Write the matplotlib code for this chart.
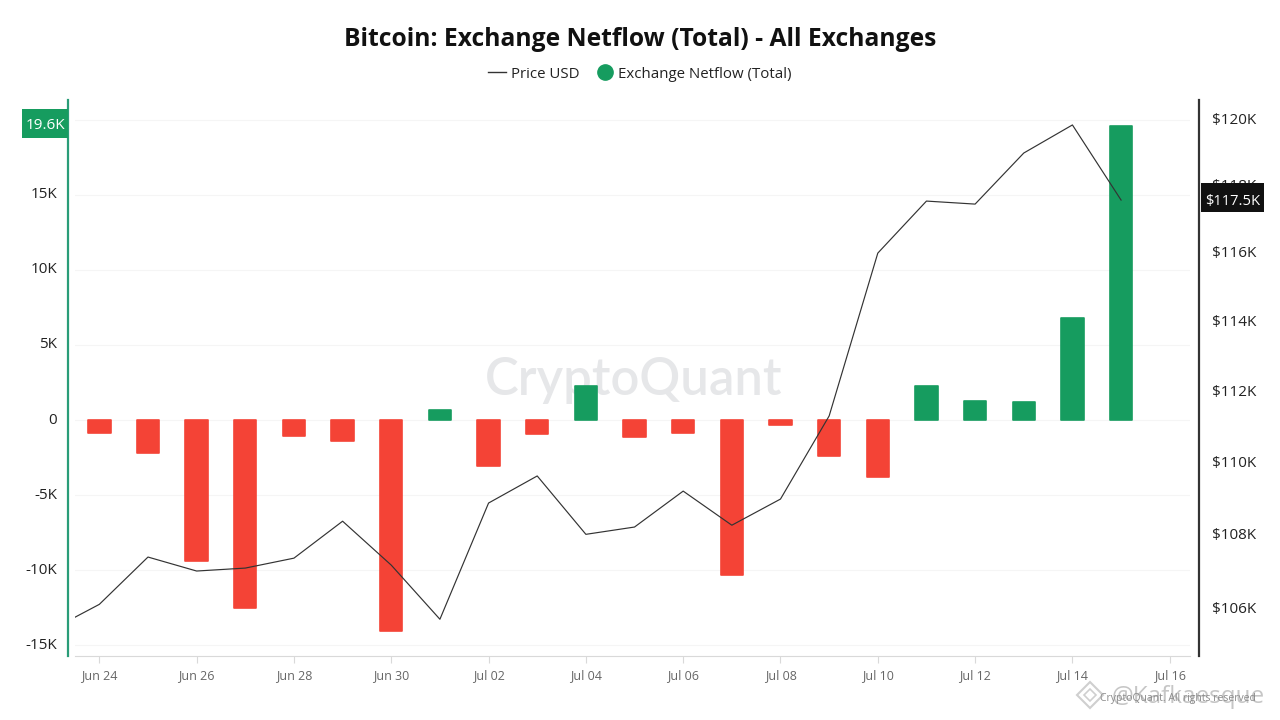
import matplotlib
matplotlib.use("Agg")
import matplotlib.pyplot as plt
from matplotlib.lines import Line2D
from matplotlib.patches import RegularPolygon
from matplotlib.ticker import NullLocator
import pandas as pd

plt.rcParams["font.family"] = ["Open Sans", "DejaVu Sans"]

# Datos
bar_dates = pd.date_range("2025-06-24", "2025-07-15").tolist()
netflow = [-870, -2200, -9400, -12530, -1070, -1400, -14070, 650, -3070, -930, 2300,
           -1130, -870, -10330, -330, -2400, -3800, 2300, 1300, 1200, 6800, 19600]

price_dates = pd.date_range("2025-06-23", "2025-07-15").tolist()
price = [105.39, 106.08, 107.36, 106.98, 107.06, 107.33, 108.34, 107.14, 105.68, 108.84,
         109.59, 107.98, 108.18, 109.17, 108.23, 108.95, 111.27, 115.96, 117.50, 117.41,
         118.94, 119.79, 117.53]

left_ticks = [-15000, -10000, -5000, 0, 5000, 10000, 15000]
left_labels = ["-15K", "-10K", "-5K", "0", "5K", "10K", "15K"]
right_ticks = [106, 108, 110, 112, 114, 116, 118, 120]
right_labels = ["$106K", "$108K", "$110K", "$112K", "$114K", "$116K", "$118K", "$120K"]
x_ticks = pd.date_range("2025-06-24", "2025-07-16", freq="2D").tolist()
x_labels = [d.strftime("%b %d") for d in x_ticks]

GREEN = "#169c5f"
RED = "#f44336"
W, H = 1280, 720

fig = plt.figure(figsize=(12.8, 7.2), dpi=100)
# caja del grafico en pixeles: x 75-1190, y 100-656
ax = fig.add_axes([75 / W, 1 - 656 / H, (1190 - 75) / W, (656 - 100) / H])
ax2 = ax.twinx()

# Barras de netflow
colors = [GREEN if v > 0 else RED for v in netflow]
bars = ax.bar(bar_dates, netflow, width=0.46, color=colors, edgecolor=colors, linewidth=1.2, zorder=3)
for b in bars:
    b.set_joinstyle("round")

# Precio (escala log)
ax2.plot(price_dates, price, color="#333333", linewidth=0.85, zorder=5)
ax2.set_yscale("log")
ax2.set_ylim(104.7, 120.55)
ax2.set_yticks(right_ticks)
ax2.set_yticklabels(right_labels)
ax2.yaxis.set_minor_locator(NullLocator())
ax2.tick_params(axis="y", length=0, pad=9.5, labelsize=11, labelcolor="#222222")

ax.set_xlim(pd.Timestamp("2025-06-23") + pd.Timedelta(hours=12), pd.Timestamp("2025-07-16") + pd.Timedelta(hours=10))
ax.set_ylim(-15730, 21330)
ax.set_yticks(left_ticks + [20000])
ax.set_yticklabels(left_labels + [""])
ax.tick_params(axis="y", length=0, pad=8, labelsize=11, labelcolor="#222222")
ax.set_xticks(x_ticks)
ax.set_xticklabels(x_labels)
ax.tick_params(axis="x", length=5, color="#d9d9d9", labelsize=9, labelcolor="#666666", pad=4.5)
ax.grid(axis="y", color="#f5f5f5", linewidth=0.8, zorder=0)
ax.set_axisbelow(True)

for a in (ax, ax2):
    a.spines["top"].set_visible(False)
ax.spines["right"].set_visible(False)
ax2.spines["left"].set_visible(False)
ax2.spines["bottom"].set_visible(False)
ax.spines["bottom"].set_color("#d9d9d9")
ax.spines["left"].set_position(("outward", 5))
ax.spines["left"].set_color("#2a9d78")
ax.spines["left"].set_linewidth(1.6)
ax2.spines["right"].set_position(("outward", 6.5))
ax2.spines["right"].set_color("#333333")
ax2.spines["right"].set_linewidth(1.6)

# las etiquetas del eje izquierdo quedan un poco por encima de la rejilla
# (despues de set_position, que reinicia los ticks)
for t in ax.get_yticklabels():
    t.set_verticalalignment("center")

# Titulo y leyenda
fig.text(640 / W, 1 - 40 / H, "Bitcoin: Exchange Netflow (Total) - All Exchanges", ha="center", va="center",
         fontsize=17.7, fontweight="bold", color="#111111")
handles = [Line2D([], [], color="#333333", linewidth=1),
           Line2D([], [], linestyle="", marker="o", markersize=11, color=GREEN)]
fig.legend(handles, ["Price USD", "Exchange Netflow (Total)"], loc="center", bbox_to_anchor=(640 / W, 1 - 74 / H),
           ncol=2, frameon=False, fontsize=10.8, handlelength=1.2, handletextpad=0.3, columnspacing=1.1,
           labelcolor="#222222")

# Etiquetas de ultimo valor
fig.text(45.5 / W, 1 - 125.5 / H, "19.6K", ha="center", va="center", fontsize=11, color="white", zorder=10)
fig.patches.append(plt.Rectangle((22 / W, 1 - 138 / H), 46 / W, 29 / H, transform=fig.transFigure,
                                 fc=GREEN, ec="none", zorder=9))
fig.text(1232.5 / W, 1 - 201 / H, "$117.5K", ha="center", va="center", fontsize=10.6, color="white", zorder=10)
fig.patches.append(plt.Rectangle((1201 / W, 1 - 212 / H), 63 / W, 29 / H, transform=fig.transFigure,
                                 fc="#111111", ec="none", zorder=9))

# Marcas de agua: la grande va detras de las barras
ax.text(634 / W, 1 - 380 / H, "CryptoQuant", ha="center", va="center", fontsize=36.5, color="#e6e7e9",
        family=["Lato", "DejaVu Sans"], fontweight="semibold", zorder=1, transform=fig.transFigure)
fig.text(1188 / W, 1 - 697 / H, "@Kafkaesque", ha="center", va="center", fontsize=17.5, color="#c6c6c6", zorder=10)
fig.text(1100 / W, 1 - 698 / H, "CryptoQuant. All rights reserved", ha="left", va="center", fontsize=7.5,
         color="#8a8a8a", zorder=10)
fig.patches.append(RegularPolygon((1090, 720 - 695), 4, radius=13, transform=None, fc="white", ec="#cfcfcf",
                                  linewidth=1.5, zorder=10))
fig.patches.append(RegularPolygon((1090, 720 - 695), 4, radius=6, transform=None, fc="white", ec="#cfcfcf",
                                  linewidth=1.2, zorder=10))

fig.savefig("out.png", dpi=100)
